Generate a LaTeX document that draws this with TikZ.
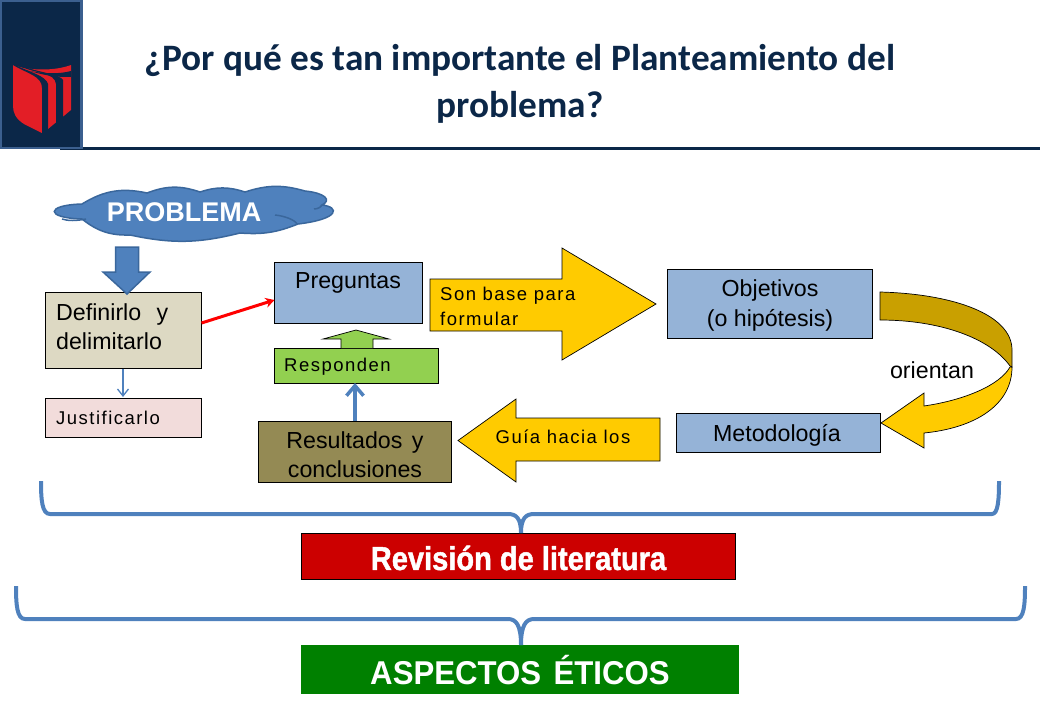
\documentclass[tikz,border=0pt]{standalone}
\usepackage{fontspec}
\setmainfont{Liberation Sans}
\newfontfamily\carl{Carlito}
\newfontfamily\spaced[LetterSpace=8]{Liberation Sans}
\newfontfamily\fatb[FakeBold=1.5]{Liberation Sans Bold}
\usetikzlibrary{arrows.meta}
\definecolor{navy}{HTML}{0B2748}
\definecolor{edgeblue}{HTML}{3B5F8F}
\definecolor{shred}{HTML}{E31E26}
\definecolor{skyb}{HTML}{95B3D7}
\definecolor{midb}{HTML}{4F81BD}
\definecolor{darkb}{HTML}{3A679C}
\definecolor{tanb}{HTML}{DDD9C3}
\definecolor{pinkb}{HTML}{F2DCDB}
\definecolor{greenb}{HTML}{92D050}
\definecolor{oliveb}{HTML}{948A54}
\definecolor{goldb}{HTML}{FFCB00}
\definecolor{dgold}{HTML}{C9A000}
\definecolor{redb}{HTML}{CC0000}
\definecolor{greenk}{HTML}{008000}
\newcommand{\fs}[1]{\fontsize{#1}{#1}\selectfont}
\tikzset{
  x=1pt,y=-1pt,
  boxn/.style={draw=black,line width=0.9pt,inner sep=0pt,outer sep=0pt},
  lbl/.style={inner sep=0pt,text=black,font=\fs{23.2}},
  lbll/.style={lbl,align=left,anchor=west},
  small/.style={inner sep=0pt,text=black,font=\spaced\fs{18.5}},
  block/.style={draw=black,line width=0.7pt,line join=miter},
  brace/.style={draw=midb,line width=4pt,line join=round},
  lobe/.style={bend left=#1},
}
\begin{document}
\begin{tikzpicture}
\useasboundingbox (0,0) rectangle (1040,720);
% header
\draw[navy,line width=3pt] (60,148) -- (1040,148);
\draw[fill=navy,draw=edgeblue,line width=2.5pt] (0.5,0.5) rectangle (81.5,148);
% shield
\fill[shred] (13,65) .. controls (30,71) and (55,71) .. (71,65) -- (71,110) -- (48,129) -- (42,133) -- (24,124) .. controls (16,119) and (13,113) .. (13,106) -- cycle;
\fill[navy] (13,65) .. controls (28,74) and (42,76) .. (42,88) -- (42,135) -- (48,135) -- (48,84) .. controls (46,76) and (30,72) .. (15,65) -- cycle;
\fill[navy] (17,65) .. controls (35,74) and (55,72) .. (56,84) -- (56,128) -- (63,122) -- (63,80) .. controls (60,74) and (40,73) .. (19,65) -- cycle;
\fill[navy] (30,71) .. controls (45,74) and (60,74) .. (71,71) -- (71,77) .. controls (60,77) and (50,77) .. (30,71) -- cycle;
\node[inner sep=0pt,text=navy,align=center,font=\carl\bfseries\fs{37.3}] (title) at (520,60) {¿Por qué es tan importante el Planteamiento del};
\node[inner sep=0pt,text=navy,font=\carl\bfseries\fs{37.3}] (title2) at (520,107) {problema?};
% cloud
\draw[fill=midb,draw=darkb,line width=1.5pt]
  (82,219) .. controls (45,218) and (45,205) .. (82,204) to[lobe=22] (147,193) to[lobe=20] (200,192) to[lobe=18] (245,192)
  to[lobe=17] (305,191) .. controls (325,193) and (332,200) .. (322,205) .. controls (340,207) and (340,219) .. (298,224) to[lobe=13] (240,233)
  to[lobe=13] (130,235) to[lobe=20] (82,219) -- cycle;
\draw[darkb,line width=1.5pt] (62,219) .. controls (68,221) and (76,221) .. (86,219);
\draw[darkb,line width=1.5pt] (314,209) .. controls (318,209) and (321,207) .. (322,205);
\draw[darkb,line width=1.5pt] (275,215) .. controls (285,216) and (295,220) .. (297,224);
\node[inner sep=0pt,text=white,font=\bfseries\fs{27}] (problema) at (184,212) {PROBLEMA};
% boxes
\node[boxn,fill=tanb,minimum width=156pt,minimum height=76pt] (def) at (123.5,330) {};
\node[lbll] (deft) at (56,330) {\begin{tabular}{@{}l@{}}Definirlo\hspace{9pt} y\\[6pt]delimitarlo\end{tabular}};
\node[boxn,fill=pinkb,minimum width=156pt,minimum height=39pt] (jus) at (123.5,417.5) {};
\node[small,anchor=west] (just) at (56,418) {Justificarlo};
\node[boxn,fill=skyb,minimum width=148pt,minimum height=61pt] (pre) at (348.5,292.5) {};
\node[lbl] (pret) at (348,283) {Preguntas};
% responden up arrow
\node[boxn,fill=greenb,minimum width=164pt,minimum height=35pt] (res) at (356.5,365.5) {};
\draw[block,fill=greenb] (341,348) -- (341,339) -- (323,339) -- (356,330) -- (389,339) -- (373,339) -- (373,348);
\node[small,anchor=west] (rest) at (284,367) {Responden};
\node[boxn,fill=oliveb,minimum width=193pt,minimum height=61pt] (con) at (355,451.5) {};
\node[lbl,align=center] (cont) at (355,458) {\begin{tabular}{@{}c@{}}Resultados\hspace{3pt} y\\[5pt]conclusiones\end{tabular}};
\node[boxn,fill=skyb,minimum width=205pt,minimum height=69pt] (obj) at (770,303.5) {};
\node[lbl,align=center] (objt) at (770,307) {\begin{tabular}{@{}c@{}}Objetivos\\[6pt](o hipótesis)\end{tabular}};
\node[boxn,fill=skyb,minimum width=204pt,minimum height=39pt] (met) at (778.5,432.5) {};
\node[lbl] (mett) at (777,435) {Metodología};
% big arrows
\draw[block,fill=goldb] (430,279) -- (562,279) -- (562,248) -- (656,304) -- (562,360) -- (562,331) -- (430,331) -- cycle;
\node[small,align=left,anchor=west] (son) at (440,309.5) {\begin{tabular}{@{}l@{}}Son base para\\[6pt]formular\end{tabular}};
\draw[block,fill=goldb] (660,418) -- (516,418) -- (516,399) -- (458,440.5) -- (516,482) -- (516,461) -- (660,461) -- cycle;
\node[small] (guia) at (563,437) {Guía hacia los};
% curved arrow
\draw[block,fill=goldb] (1010,367) .. controls (1000,385) and (965,400) .. (924,406) -- (924,393) -- (881,423) -- (924,448) -- (924,433) .. controls (975,428) and (1012,405) .. (1012,367) -- cycle;
\draw[block,fill=dgold] (880,292) .. controls (955,294) and (1012,315) .. (1012,350) -- (1012,367) -- (1010,366) .. controls (990,338) and (940,320) .. (880,320) -- cycle;
\node[lbl] (ori) at (932,370) {orientan};
% connectors
\coordinate (cl) at (127,247);
\draw[block,draw=darkb,fill=midb,line width=1.5pt] (cl) ++(-11.5,0) -- ++(0,25) -- ++(-12.5,0) -- (127,294) -- (150,272) -- (138.5,272) -- (138.5,247) -- cycle;
\draw[midb,line width=1.3pt,-{Straight Barb[length=7pt,width=11pt]}] (123,368.5) -- (123,397);
\draw[red,line width=3pt,-{Stealth[length=9pt,width=10pt]}] (def.east |- {0,323}) -- (pre.west |- {0,300});
\draw[midb,line width=3.5pt,-{Straight Barb[length=10pt,width=17pt]}] (con.north) -- (res.south -| con.north);
% bottom boxes
\node[boxn,fill=redb,minimum width=434pt,minimum height=46pt] (rev) at (518.5,556) {};
\node[inner sep=0pt,text=white,font=\fatb\fs{33}] (revt) at (518.5,558) {\scalebox{0.88}[1]{Revisión de literatura}};
\node[fill=greenk,inner sep=0pt,minimum width=438pt,minimum height=49pt] (eti) at (520,669.5) {};
\node[inner sep=0pt,text=white,font=\bfseries\fs{33}] (etit) at (520,670) {\scalebox{0.945}[1]{ASPECTOS\hspace{4pt} ÉTICOS}};
% braces
\coordinate (bl1) at (41,481); \coordinate (br1) at (999,481);
\coordinate (bl2) at (16,586); \coordinate (br2) at (1025,586);
\draw[brace] (bl1) .. controls (41,500) and (42,514) .. (50,514) -- (508,514) .. controls (516,514) and (521,518) .. (521,533);
\draw[brace] (br1) .. controls (999,500) and (998,514) .. (992,514) -- (534,514) .. controls (526,514) and (521,518) .. (521,533);
\draw[brace] (bl2) .. controls (16,605) and (17,619) .. (25,619) -- (508,619) .. controls (516,619) and (521,625) .. (521,645);
\draw[brace] (br2) .. controls (1025,605) and (1024,619) .. (1016,619) -- (534,619) .. controls (526,619) and (521,625) .. (521,645);
\end{tikzpicture}
\end{document}
